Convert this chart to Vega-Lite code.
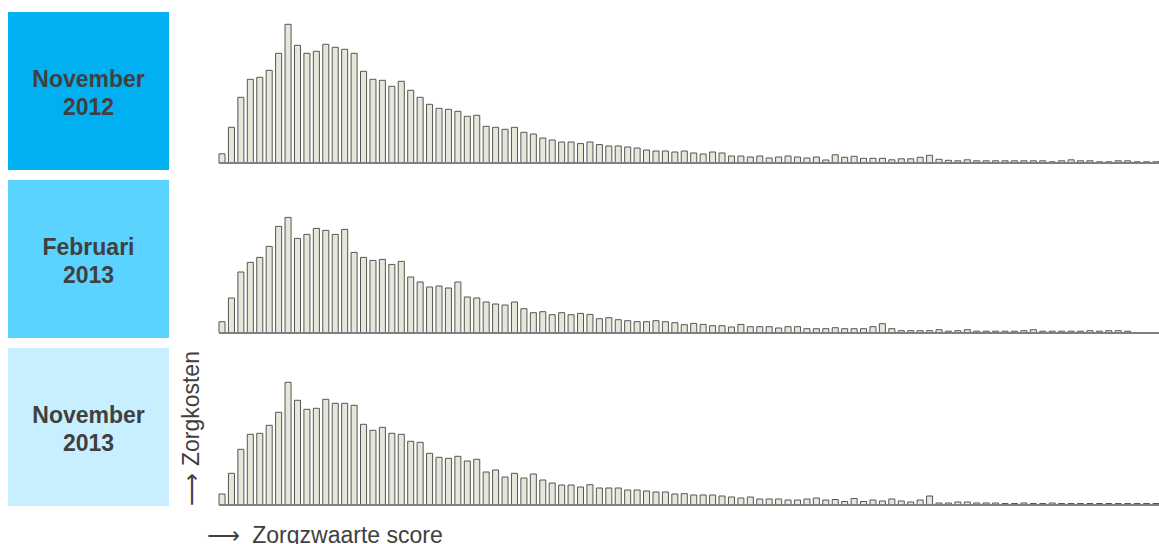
{
"$schema": "https://vega.github.io/schema/vega-lite/v6.json",
"padding": {"left": 8, "top": 12, "right": 0, "bottom": 0},
"spacing": 10,
"config": {"view": {"stroke": null}, "font": "Liberation Sans"},
"datasets": {
"nov2012": [
{"score":1,"kosten":9.5},{"score":2,"kosten":36},{"score":3,"kosten":66},{"score":4,"kosten":84},{"score":5,"kosten":86},{"score":6,"kosten":93},{"score":7,"kosten":110},{"score":8,"kosten":139},{"score":9,"kosten":118},{"score":10,"kosten":110},
{"score":11,"kosten":112},{"score":12,"kosten":119},{"score":13,"kosten":116},{"score":14,"kosten":114},{"score":15,"kosten":110},{"score":16,"kosten":92},{"score":17,"kosten":84},{"score":18,"kosten":83},{"score":19,"kosten":77},{"score":20,"kosten":82},
{"score":21,"kosten":73},{"score":22,"kosten":66},{"score":23,"kosten":59},{"score":24,"kosten":55},{"score":25,"kosten":54},{"score":26,"kosten":52},{"score":27,"kosten":47},{"score":28,"kosten":48},{"score":29,"kosten":37},{"score":30,"kosten":36},
{"score":31,"kosten":34},{"score":32,"kosten":36},{"score":33,"kosten":31},{"score":34,"kosten":29.3},{"score":35,"kosten":25.3},{"score":36,"kosten":23.3},{"score":37,"kosten":21.3},{"score":38,"kosten":21.3},{"score":39,"kosten":19.7},{"score":40,"kosten":21.3},
{"score":41,"kosten":18.7},{"score":42,"kosten":17.3},{"score":43,"kosten":17.3},{"score":44,"kosten":16.3},{"score":45,"kosten":15.3},{"score":46,"kosten":13.3},{"score":47,"kosten":12.3},{"score":48,"kosten":12.3},{"score":49,"kosten":11.3},{"score":50,"kosten":12.3},
{"score":51,"kosten":10.3},{"score":52,"kosten":9.3},{"score":53,"kosten":11.3},{"score":54,"kosten":10.3},{"score":55,"kosten":7.3},{"score":56,"kosten":7.3},{"score":57,"kosten":6.3},{"score":58,"kosten":7.3},{"score":59,"kosten":5.3},{"score":60,"kosten":6.3},
{"score":61,"kosten":7.3},{"score":62,"kosten":6.3},{"score":63,"kosten":5.3},{"score":64,"kosten":6.3},{"score":65,"kosten":3.3},{"score":66,"kosten":8.5},{"score":67,"kosten":6},{"score":68,"kosten":7},{"score":69,"kosten":5},{"score":70,"kosten":5},
{"score":71,"kosten":5},{"score":72,"kosten":3.5},{"score":73,"kosten":4.5},{"score":74,"kosten":4.5},{"score":75,"kosten":6},{"score":76,"kosten":8},{"score":77,"kosten":4},{"score":78,"kosten":3},{"score":79,"kosten":2.5},{"score":80,"kosten":3.5},
{"score":81,"kosten":2.5},{"score":82,"kosten":2.5},{"score":83,"kosten":2.5},{"score":84,"kosten":2.5},{"score":85,"kosten":2.5},{"score":86,"kosten":2.5},{"score":87,"kosten":2.5},{"score":88,"kosten":2.5},{"score":89,"kosten":1.5},{"score":90,"kosten":2.5},
{"score":91,"kosten":3.5},{"score":92,"kosten":2.5},{"score":93,"kosten":2.5},{"score":94,"kosten":1.5},{"score":95,"kosten":1.5},{"score":96,"kosten":2.5},{"score":97,"kosten":2.5},{"score":98,"kosten":1.5},{"score":99,"kosten":1.5},{"score":100,"kosten":1.5}
],
"feb2013": [
{"score":1,"kosten":11},{"score":2,"kosten":34.7},{"score":3,"kosten":60.7},{"score":4,"kosten":70.3},{"score":5,"kosten":75.3},{"score":6,"kosten":86.3},{"score":7,"kosten":106.3},{"score":8,"kosten":115.3},{"score":9,"kosten":94.3},{"score":10,"kosten":98.3},
{"score":11,"kosten":104.3},{"score":12,"kosten":102.3},{"score":13,"kosten":98.3},{"score":14,"kosten":103.3},{"score":15,"kosten":80.3},{"score":16,"kosten":75.3},{"score":17,"kosten":72.3},{"score":18,"kosten":73.3},{"score":19,"kosten":68.3},{"score":20,"kosten":71.3},
{"score":21,"kosten":55.7},{"score":22,"kosten":50.7},{"score":23,"kosten":45.7},{"score":24,"kosten":46.7},{"score":25,"kosten":44.7},{"score":26,"kosten":50.7},{"score":27,"kosten":35.7},{"score":28,"kosten":34.7},{"score":29,"kosten":30.7},{"score":30,"kosten":28.7},
{"score":31,"kosten":27.7},{"score":32,"kosten":30.7},{"score":33,"kosten":24},{"score":34,"kosten":20},{"score":35,"kosten":21},{"score":36,"kosten":18},{"score":37,"kosten":20},{"score":38,"kosten":18},{"score":39,"kosten":19.3},{"score":40,"kosten":18.3},
{"score":41,"kosten":14},{"score":42,"kosten":15},{"score":43,"kosten":13},{"score":44,"kosten":12},{"score":45,"kosten":11},{"score":46,"kosten":11},{"score":47,"kosten":12},{"score":48,"kosten":11},{"score":49,"kosten":10},{"score":50,"kosten":8},
{"score":51,"kosten":9.3},{"score":52,"kosten":8.3},{"score":53,"kosten":7},{"score":54,"kosten":7},{"score":55,"kosten":5.7},{"score":56,"kosten":8.3},{"score":57,"kosten":6},{"score":58,"kosten":6},{"score":59,"kosten":6},{"score":60,"kosten":4.7},
{"score":61,"kosten":6},{"score":62,"kosten":6},{"score":63,"kosten":4},{"score":64,"kosten":4},{"score":65,"kosten":4},{"score":66,"kosten":5},{"score":67,"kosten":4},{"score":68,"kosten":4},{"score":69,"kosten":4},{"score":70,"kosten":6},
{"score":71,"kosten":9},{"score":72,"kosten":4},{"score":73,"kosten":2},{"score":74,"kosten":2},{"score":75,"kosten":2},{"score":76,"kosten":2},{"score":77,"kosten":3},{"score":78,"kosten":1.5},{"score":79,"kosten":2},{"score":80,"kosten":3},
{"score":81,"kosten":1.5},{"score":82,"kosten":1.5},{"score":83,"kosten":1.5},{"score":84,"kosten":1.5},{"score":85,"kosten":1.5},{"score":86,"kosten":2},{"score":87,"kosten":3},{"score":88,"kosten":1.5},{"score":89,"kosten":1.5},{"score":90,"kosten":1.5},
{"score":91,"kosten":1.5},{"score":92,"kosten":1.5},{"score":93,"kosten":2},{"score":94,"kosten":1.5},{"score":95,"kosten":2},{"score":96,"kosten":2},{"score":97,"kosten":1.5},{"score":98,"kosten":0},{"score":99,"kosten":0},{"score":100,"kosten":0}
],
"nov2013": [
{"score":1,"kosten":11},{"score":2,"kosten":31.7},{"score":3,"kosten":55.7},{"score":4,"kosten":70.7},{"score":5,"kosten":71.7},{"score":6,"kosten":79.7},{"score":7,"kosten":92.7},{"score":8,"kosten":122.7},{"score":9,"kosten":104.7},{"score":10,"kosten":95.7},
{"score":11,"kosten":96.7},{"score":12,"kosten":105.7},{"score":13,"kosten":101.7},{"score":14,"kosten":101.7},{"score":15,"kosten":99.7},{"score":16,"kosten":80.7},{"score":17,"kosten":74.7},{"score":18,"kosten":77.7},{"score":19,"kosten":71.7},{"score":20,"kosten":70.7},
{"score":21,"kosten":63.7},{"score":22,"kosten":62.7},{"score":23,"kosten":51.7},{"score":24,"kosten":47.7},{"score":25,"kosten":46.7},{"score":26,"kosten":48.7},{"score":27,"kosten":44},{"score":28,"kosten":45.7},{"score":29,"kosten":33},{"score":30,"kosten":35},
{"score":31,"kosten":28},{"score":32,"kosten":31.7},{"score":33,"kosten":27},{"score":34,"kosten":31},{"score":35,"kosten":25},{"score":36,"kosten":22},{"score":37,"kosten":20},{"score":38,"kosten":20},{"score":39,"kosten":18},{"score":40,"kosten":20.3},
{"score":41,"kosten":17},{"score":42,"kosten":17},{"score":43,"kosten":17},{"score":44,"kosten":15},{"score":45,"kosten":15},{"score":46,"kosten":14},{"score":47,"kosten":13},{"score":48,"kosten":13},{"score":49,"kosten":11},{"score":50,"kosten":11.3},
{"score":51,"kosten":10},{"score":52,"kosten":10},{"score":53,"kosten":10},{"score":54,"kosten":9},{"score":55,"kosten":8},{"score":56,"kosten":7},{"score":57,"kosten":8},{"score":58,"kosten":6},{"score":59,"kosten":6},{"score":60,"kosten":6},
{"score":61,"kosten":5},{"score":62,"kosten":5},{"score":63,"kosten":6},{"score":64,"kosten":7},{"score":65,"kosten":5},{"score":66,"kosten":5.5},{"score":67,"kosten":3.5},{"score":68,"kosten":6.5},{"score":69,"kosten":3.5},{"score":70,"kosten":5},
{"score":71,"kosten":4},{"score":72,"kosten":6},{"score":73,"kosten":4},{"score":74,"kosten":3},{"score":75,"kosten":5},{"score":76,"kosten":9},{"score":77,"kosten":2},{"score":78,"kosten":2},{"score":79,"kosten":3},{"score":80,"kosten":3},
{"score":81,"kosten":2},{"score":82,"kosten":2},{"score":83,"kosten":2},{"score":84,"kosten":1.5},{"score":85,"kosten":1.5},{"score":86,"kosten":2},{"score":87,"kosten":1.5},{"score":88,"kosten":1.5},{"score":89,"kosten":2},{"score":90,"kosten":1.5},
{"score":91,"kosten":1.5},{"score":92,"kosten":1.5},{"score":93,"kosten":1.5},{"score":94,"kosten":1.5},{"score":95,"kosten":1.5},{"score":96,"kosten":1.5},{"score":97,"kosten":1.5},{"score":98,"kosten":1.5},{"score":99,"kosten":1.5},{"score":100,"kosten":1.5}
]
},
"vconcat": [
{
"bounds": "flush",
"spacing": 50,
"hconcat": [
{"width": 161, "height": 158, "view": {"fill": "#00B0F0", "stroke": null},
 "data": {"values": [{"label": "November\n2012"}]},
 "mark": {"type": "text", "lineBreak": "\n", "font": "Liberation Sans", "fontWeight": "bold", "fontSize": 23, "lineHeight": 28, "color": "#404040", "dy": -11},
 "encoding": {"text": {"field": "label"}}},
{"width": 940, "height": 158, "data": {"name": "nov2012"},
 "layer": [
  {"mark": {"type": "bar", "fill": "#E6E6D9", "stroke": "#555555", "strokeWidth": 1},
   "encoding": {
    "x": {"field": "score", "type": "ordinal", "axis": null, "scale": {"paddingInner": 0.36, "paddingOuter": 0}},
    "y": {"field": "kosten", "type": "quantitative", "axis": null, "scale": {"domain": [-6.7, 151.3], "nice": false}}}},
  {"mark": {"type": "rule", "color": "#808080", "strokeWidth": 1.5}, "encoding": {"y": {"datum": 0}}}
 ]}
]
},
{
"bounds": "flush",
"spacing": 50,
"hconcat": [
{"width": 161, "height": 158, "view": {"fill": "#5BD3FF", "stroke": null},
 "data": {"values": [{"label": "Februari\n2013"}]},
 "mark": {"type": "text", "lineBreak": "\n", "font": "Liberation Sans", "fontWeight": "bold", "fontSize": 23, "lineHeight": 28, "color": "#404040", "dy": -11},
 "encoding": {"text": {"field": "label"}}},
{"width": 940, "height": 158, "data": {"name": "feb2013"},
 "layer": [
  {"mark": {"type": "bar", "fill": "#E6E6D9", "stroke": "#555555", "strokeWidth": 1},
   "encoding": {
    "x": {"field": "score", "type": "ordinal", "axis": null, "scale": {"paddingInner": 0.36, "paddingOuter": 0}},
    "y": {"field": "kosten", "type": "quantitative", "axis": null, "scale": {"domain": [-5.3, 152.7], "nice": false}}}},
  {"mark": {"type": "rule", "color": "#808080", "strokeWidth": 1.5}, "encoding": {"y": {"datum": 0}}}
 ]}
]
},
{
"bounds": "flush",
"spacing": 50,
"hconcat": [
{"width": 161, "height": 158, "view": {"fill": "#C8EFFF", "stroke": null},
 "data": {"values": [{"label": "November\n2013"}]},
 "mark": {"type": "text", "lineBreak": "\n", "font": "Liberation Sans", "fontWeight": "bold", "fontSize": 23, "lineHeight": 28, "color": "#404040", "dy": -11},
 "encoding": {"text": {"field": "label"}}},
{"width": 940, "height": 158, "data": {"name": "nov2013"},
 "layer": [
  {"mark": {"type": "bar", "fill": "#E6E6D9", "stroke": "#555555", "strokeWidth": 1},
   "encoding": {
    "x": {"field": "score", "type": "ordinal", "scale": {"paddingInner": 0.36, "paddingOuter": 0},
     "axis": {"title": "⟶\u00a0\u00a0Zorgzwaarte score", "domain": false, "ticks": false, "labels": false, "grid": false,
      "titleFont": "Liberation Sans", "titleFontSize": 23, "titleFontWeight": "normal", "titleColor": "#404040",
      "titleAnchor": "start", "titleAlign": "left", "titleBaseline": "alphabetic", "titleX": -13, "titleY": 36}},
    "y": {"field": "kosten", "type": "quantitative", "scale": {"domain": [-1, 157], "nice": false},
     "axis": {"title": "⟶ Zorgkosten", "domain": false, "ticks": false, "labels": false, "grid": false,
      "titleFont": "Liberation Sans", "titleFontSize": 23, "titleFontWeight": "normal", "titleColor": "#404040",
      "titleAngle": 270, "titleAlign": "left", "titleBaseline": "alphabetic", "titleX": -21, "titleY": 157}}}},
  {"mark": {"type": "rule", "color": "#808080", "strokeWidth": 1.5}, "encoding": {"y": {"datum": 0}}}
 ]}
]
}
]
}
